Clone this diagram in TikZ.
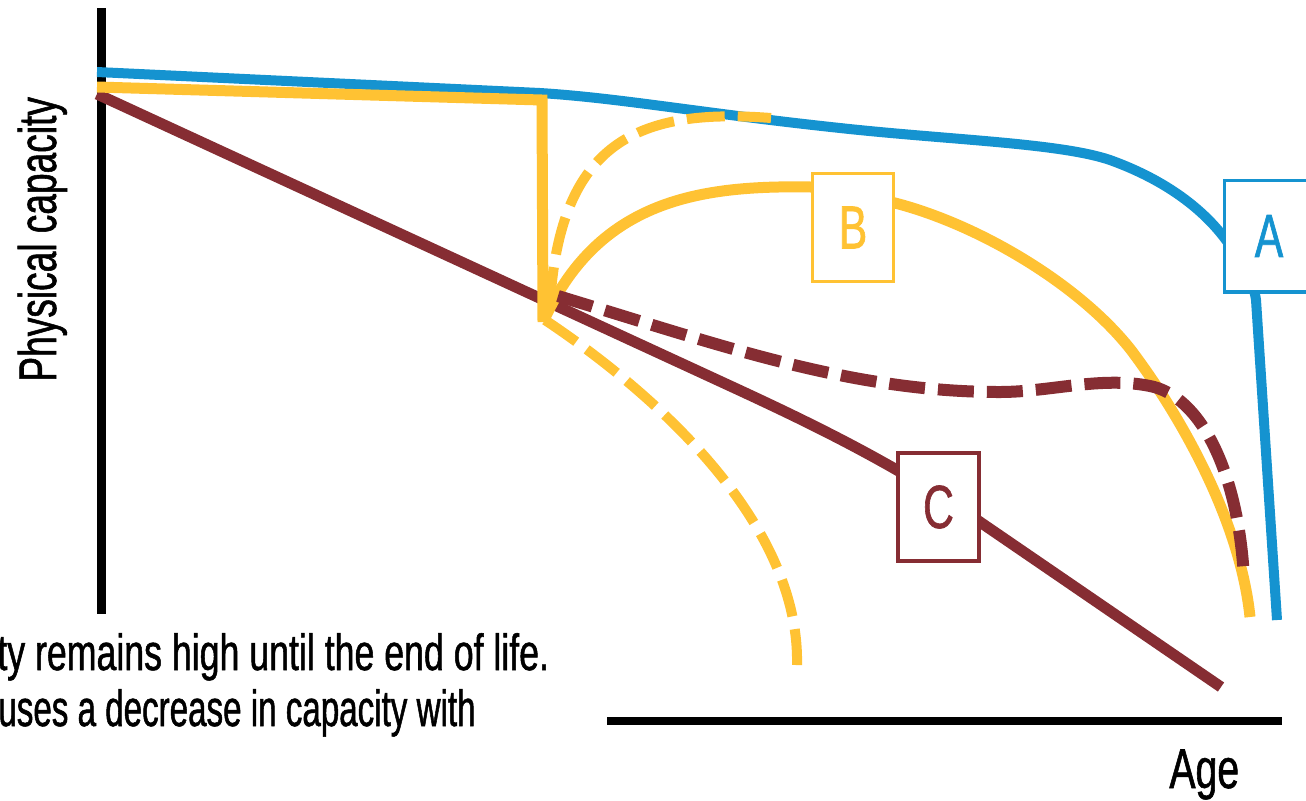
\documentclass[tikz,border=0pt]{standalone}
\usepackage{fontspec}
\newfontfamily\cond{Liberation Sans}[FakeStretch=0.70,FakeBold=1]
\newfontfamily\condn{Liberation Sans}[FakeStretch=0.65,FakeBold=1]
\definecolor{capblue}{RGB}{21,147,208}
\definecolor{capyellow}{RGB}{255,194,51}
\definecolor{capmaroon}{RGB}{134,45,51}
\begin{document}
\begin{tikzpicture}[x=0.5pt,y=-0.5pt,
  axisline/.style={line width=4.5pt, draw=black},
  curveA/.style={line width=5pt, draw=capblue},
  curveB/.style={line width=5.5pt, draw=capyellow},
  curveBdash/.style={line width=5pt, draw=capyellow, dash pattern=on 19pt off 6.5pt},
  curveC/.style={line width=5.5pt, draw=capmaroon},
  curveCdash/.style={line width=6pt, draw=capmaroon, dash pattern=on 18pt off 6.5pt},
  tag/.style={draw=#1, text=#1, fill=white, line width=1.75pt, minimum width=40.5pt,
    minimum height=54pt, inner sep=0pt, font=\cond\fontsize{30.5}{34}\selectfont},
  lbl/.style={inner sep=0pt, text=black}]
\useasboundingbox (0,0) rectangle (1306,800);
\clip (0,0) rectangle (1306,800);
% axes
\coordinate (ytop) at (101.5,8);
\coordinate (ybot) at (101.5,614);
\coordinate (xl) at (607,721);
\coordinate (xr) at (1282,721);
\draw[axisline] (ytop) -- (ybot);
\draw[axisline, line width=4pt] (xl) -- (xr);
% C solid
\draw[curveC] (97,94) -- (700,372) .. controls (780,409) and (880,453.5) .. (980,522) -- (1221,687);
% A
\draw[curveA] (97,72) -- (540,93) .. controls (620,98) and (700,113) .. (840,128)
  .. controls (950,140) and (1060,143) .. (1110,160)
  .. controls (1160,178) and (1200,205) .. (1226,240)
  .. controls (1245,265) and (1254,285) .. (1256,300) -- (1277,620);
% B
\draw[curveB] (97,87) -- (542,100) -- (543,322);
\draw[curveB] (545,318) .. controls (600,200) and (700,185) .. (811,187)
  .. controls (840,188) and (870,196) .. (895,203)
  .. controls (980,225) and (1080,285) .. (1131,350)
  .. controls (1180,415) and (1240,520) .. (1250,617);
\draw[curveBdash] (550,305) .. controls (560,140) and (640,108) .. (771,118);
\draw[curveBdash] (545,320) .. controls (650,390) and (800,520) .. (797,665);
% C dashed
\draw[curveCdash] (558,296) .. controls (720,345) and (850,392) .. (1000,392)
  .. controls (1050,392) and (1100,376) .. (1150,386)
  .. controls (1200,396) and (1238,470) .. (1244,578);
% tags
\node[tag=capyellow] (B) at (853,227.5) {B};
\node[tag=capmaroon] (C) at (938.5,507) {C};
\node[tag=capblue, draw=none, minimum width=52pt] (A) at (1278,236) {\kern-9pt A};
\draw[capblue, line width=1.75pt] (A.north east) -- (A.north west) -- (A.south west) -- (A.south east);
% labels
\node[lbl, rotate=90, anchor=base west, font=\cond\fontsize{26.5}{30}\selectfont] (ylab) at (56,382) {Physical capacity};
\node[lbl, anchor=base west, font=\cond\fontsize{28}{32}\selectfont] (agelbl) at (1169,788) {Age};
\node[lbl, anchor=base west, font=\cond\fontsize{25.5}{30}\selectfont] (line1) at (-3,670) {ty remains high until the end of life.};
\node[lbl, anchor=base west, font=\condn\fontsize{25.5}{30}\selectfont] (line2) at (-2,726) {uses a decrease in capacity with};
\end{tikzpicture}
\end{document}
